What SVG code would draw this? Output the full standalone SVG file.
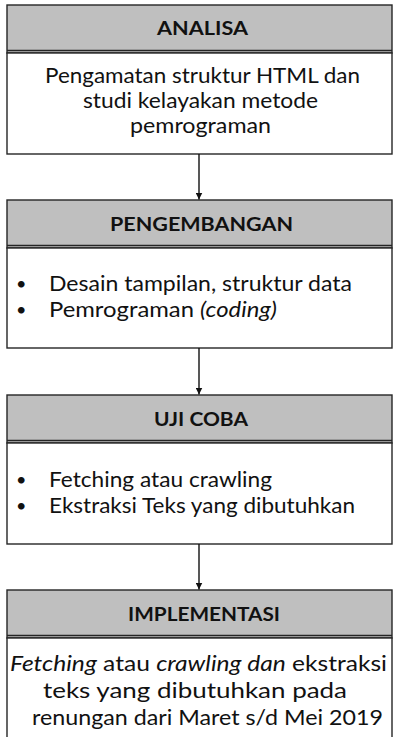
<svg xmlns="http://www.w3.org/2000/svg" width="393" height="737" viewBox="0 0 393 737">
<defs>
<style>
.hd{fill:#bfbfbf;stroke:#262626;stroke-width:1.4}
.bd{fill:#ffffff;stroke:#262626;stroke-width:1.4}
.ln{stroke:#262626;stroke-width:1.4}
.ht{font-family:Lato,"Open Sans",sans-serif;font-weight:bold;font-size:18px;fill:#111}
.tx{font-family:Lato,"Open Sans",sans-serif;font-size:22px;fill:#111}
.bu{font-family:Lato,"Open Sans",sans-serif;font-size:18px;fill:#111}
.it{font-style:italic}
.cn{stroke:#111;stroke-width:1.4;fill:none}
</style>
<marker id="ah" viewBox="0 0 10 10" refX="10" refY="5" markerWidth="7" markerHeight="7" markerUnits="userSpaceOnUse" orient="auto">
<path d="M0,0 L10,5 L0,10 z" fill="#111"/>
</marker>
</defs>
<rect width="393" height="737" fill="#ffffff"/>

<g id="analisa">
<rect class="hd" x="7" y="5" width="385" height="48"/>
<line class="ln" x1="7" y1="50.5" x2="392" y2="50.5"/>
<rect class="bd" x="7" y="53" width="385" height="101"/>
<text class="ht" x="157" y="35" textLength="91" lengthAdjust="spacingAndGlyphs">ANALISA</text>
<text class="tx" x="45" y="83" textLength="315" lengthAdjust="spacingAndGlyphs">Pengamatan struktur HTML dan</text>
<text class="tx" x="83" y="108" textLength="235" lengthAdjust="spacingAndGlyphs">studi kelayakan metode</text>
<text class="tx" x="130" y="133" textLength="141" lengthAdjust="spacingAndGlyphs">pemrograman</text>
</g>

<g id="pengembangan">
<rect class="hd" x="7" y="200" width="385" height="48"/>
<line class="ln" x1="7" y1="245.5" x2="392" y2="245.5"/>
<rect class="bd" x="7" y="248" width="385" height="100"/>
<text class="ht" x="110" y="231" textLength="183" lengthAdjust="spacingAndGlyphs">PENGEMBANGAN</text>
<text class="bu" x="16" y="290">•</text>
<text class="tx" x="49" y="291" textLength="303" lengthAdjust="spacingAndGlyphs">Desain tampilan, struktur data</text>
<text class="bu" x="16" y="316">•</text>
<text class="tx" x="49" y="317" textLength="228" lengthAdjust="spacingAndGlyphs">Pemrograman <tspan class="it">(coding)</tspan></text>
</g>

<g id="uji-coba">
<rect class="hd" x="7" y="395" width="385" height="48"/>
<line class="ln" x1="7" y1="440.5" x2="392" y2="440.5"/>
<rect class="bd" x="7" y="443" width="385" height="101"/>
<text class="ht" x="154" y="426" textLength="94" lengthAdjust="spacingAndGlyphs">UJI COBA</text>
<text class="bu" x="16" y="486">•</text>
<text class="tx" x="49" y="487" textLength="223" lengthAdjust="spacingAndGlyphs">Fetching atau crawling</text>
<text class="bu" x="16" y="512">•</text>
<text class="tx" x="49" y="513" textLength="306" lengthAdjust="spacingAndGlyphs">Ekstraksi Teks yang dibutuhkan</text>
</g>

<g id="implementasi">
<rect class="hd" x="7" y="590" width="385" height="48"/>
<line class="ln" x1="7" y1="635.5" x2="392" y2="635.5"/>
<rect class="bd" x="7" y="638" width="385" height="110"/>
<text class="ht" x="128" y="621" textLength="152" lengthAdjust="spacingAndGlyphs">IMPLEMENTASI</text>
<text class="tx" x="10" y="671" textLength="377" lengthAdjust="spacingAndGlyphs"><tspan class="it">Fetching</tspan> atau <tspan class="it">crawling dan</tspan> ekstraksi</text>
<text class="tx" x="43" y="698" textLength="304" lengthAdjust="spacingAndGlyphs">teks yang dibutuhkan pada</text>
<text class="tx" x="32" y="725" textLength="351" lengthAdjust="spacingAndGlyphs">renungan dari Maret s/d Mei 2019</text>
</g>

<g id="connectors">
<line class="cn" x1="199" y1="154" x2="199" y2="199.5" marker-end="url(#ah)"/>
<line class="cn" x1="199" y1="348" x2="199" y2="394.5" marker-end="url(#ah)"/>
<line class="cn" x1="199" y1="544" x2="199" y2="589.5" marker-end="url(#ah)"/>
</g>
</svg>
